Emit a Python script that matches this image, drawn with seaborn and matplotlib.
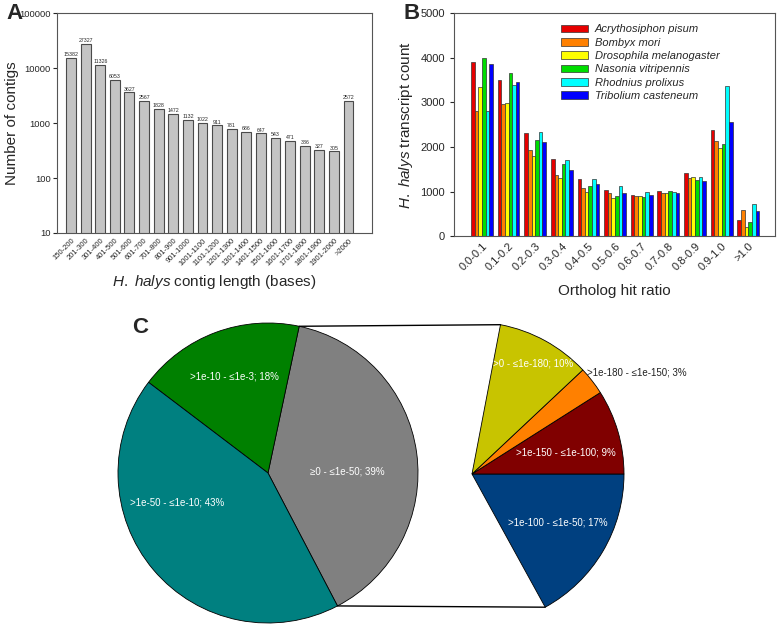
import numpy as np
import pandas as pd
import matplotlib
matplotlib.use("Agg")
import matplotlib.pyplot as plt
import seaborn as sns

# ---- data ----
# A: contig length distribution
length_bins = ["150-200", "201-300", "301-400", "401-500", "501-600", "601-700",
               "701-800", "801-900", "901-1000", "1001-1100", "1101-1200",
               "1201-1300", "1301-1400", "1401-1500", "1501-1600", "1601-1700",
               "1701-1800", "1801-1900", "1901-2000", ">2000"]
contig_counts = [15382, 27327, 11326, 6053, 3627, 2567, 1828, 1472, 1132, 1022,
                 911, 781, 686, 647, 543, 471, 386, 327, 305, 2572]

# B: ortholog hit ratio per species
ratio_bins = ["0.0-0.1", "0.1-0.2", "0.2-0.3", "0.3-0.4", "0.4-0.5", "0.5-0.6",
              "0.6-0.7", "0.7-0.8", "0.8-0.9", "0.9-1.0", ">1.0"]
species = ["Acrythosiphon pisum", "Bombyx mori", "Drosophila melanogaster",
           "Nasonia vitripennis", "Rhodnius prolixus", "Tribolium casteneum"]
acyr = [3900, 3500, 2310, 1740, 1275, 1030, 930, 1020, 1410, 2370, 360]
bomb = [2800, 2960, 1940, 1365, 1090, 970, 900, 975, 1310, 2130, 575]
dros = [3350, 2980, 1790, 1310, 1000, 845, 910, 970, 1335, 1980, 195]
naso = [4000, 3650, 2160, 1610, 1120, 890, 880, 1005, 1255, 2060, 320]
rhod = [2800, 3380, 2330, 1700, 1290, 1135, 985, 985, 1335, 3370, 730]
trib = [3850, 3460, 2100, 1485, 1165, 960, 920, 970, 1245, 2570, 565]
species_colors = ["#e60000", "#ff8000", "#ffff00", "#00dd00", "#00ffff", "#0000ff"]

# C: e-value distribution (pie of pie)
main_labels = ["\u22650 - \u22641e-50; 39%", ">1e-10 - \u22641e-3; 18%", ">1e-50 - \u22641e-10; 43%"]
main_pct = [39, 18, 43]
main_colors = ["#808080", "#008000", "#008080"]
sub_labels = [">1e-100 - \u22641e-50; 17%", ">1e-150 - \u22641e-100; 9%",
              ">1e-180 - \u22641e-150; 3%", ">0 - \u22641e-180; 10%"]
sub_pct = [17, 9, 3, 10]
sub_colors = ["#004080", "#800000", "#ff8000", "#c8c400"]

# ---- style ----
sns.set_style("ticks")
plt.rcParams["font.family"] = ["Liberation Sans", "DejaVu Sans"]
plt.rcParams["mathtext.fontset"] = "custom"
plt.rcParams["mathtext.rm"] = "Liberation Sans"
plt.rcParams["mathtext.it"] = "Liberation Sans:italic"
plt.rcParams["axes.edgecolor"] = "#555555"
plt.rcParams["axes.linewidth"] = 0.8

fig = plt.figure(figsize=(7.78, 6.28), dpi=100)

# ================================
# A
# ================================
axA = fig.add_axes([0.0733, 0.629, 0.4047, 0.350])
dfA = pd.DataFrame({"bin": length_bins, "count": contig_counts})
sns.barplot(data=dfA, x="bin", y="count", color="#c4c4c4", edgecolor="#4a4a4a",
            linewidth=0.8, width=0.68, saturation=1, ax=axA)
axA.set_yscale("log")
axA.set_ylim(10, 100000)
axA.set_xlim(-0.96, 20.6)
axA.set_yticks([10, 100, 1000, 10000, 100000])
axA.set_yticklabels(["10", "100", "1000", "10000", "100000"], fontsize=6.8)
axA.yaxis.set_minor_locator(matplotlib.ticker.NullLocator())
axA.set_xticks(range(len(length_bins)))
axA.set_xticklabels(length_bins, rotation=45, ha="right", rotation_mode="anchor", fontsize=5.5)
axA.tick_params(axis="x", length=0, pad=3)
axA.tick_params(axis="y", length=3, pad=1.5)
axA.bar_label(axA.containers[0], labels=[str(v) for v in contig_counts], fontsize=3.8, padding=0.5)
axA.set_ylabel("Number of contigs", fontsize=11)
axA.yaxis.set_label_coords(-0.12, 0.5)
axA.set_xlabel(r"$\it{H.\ halys}$ contig length (bases)", fontsize=11, labelpad=4)
fig.text(0.008, 0.979, "A", fontsize=16, fontweight="bold", va="center")

# ================================
# B
# ================================
axB = fig.add_axes([0.5835, 0.624, 0.4126, 0.355])
dfB = pd.DataFrame({
    "ratio": np.tile(ratio_bins, len(species)),
    "species": np.repeat(species, len(ratio_bins)),
    "count": acyr + bomb + dros + naso + rhod + trib,
})
sns.barplot(data=dfB, x="ratio", y="count", hue="species", palette=species_colors,
            edgecolor="#333333", linewidth=0.5, width=0.82, saturation=1, ax=axB)
axB.set_ylim(0, 5000)
axB.set_xlim(-1.05, 11.0)
axB.set_yticks(range(0, 5001, 1000))
axB.tick_params(axis="y", labelsize=8, length=3)
axB.tick_params(axis="x", labelsize=8, length=0)
axB.set_xticks(range(len(ratio_bins)))
axB.set_xticklabels(ratio_bins, rotation=45, ha="right", rotation_mode="anchor")
axB.set_xlabel("Ortholog hit ratio", fontsize=11, labelpad=8)
axB.set_ylabel(r"$\it{H.\ halys}$ transcript count", fontsize=11)
axB.legend(loc="upper left", bbox_to_anchor=(0.31, 0.985), frameon=False,
           prop={"style": "italic", "size": 8}, handlelength=2.4, handleheight=0.7,
           handletextpad=0.6, labelspacing=0.3, borderpad=0.2)
fig.text(0.518, 0.979, "B", fontsize=16, fontweight="bold", va="center")

# ================================
# C  (pie of pie, units in pixels)
# ================================
axC = fig.add_axes([0, 0, 1, 0.5])
main_c, main_r = (268, 155), 150
sub_c, sub_r = (472, 154), 152

wm, _ = axC.pie(main_pct, colors=main_colors, startangle=-62.4, center=main_c,
                radius=main_r, wedgeprops=dict(edgecolor="black", linewidth=0.6))
ws, _ = axC.pie([p / 100 for p in sub_pct], colors=sub_colors, startangle=-61.2,
                center=sub_c, radius=sub_r, normalize=False,
                wedgeprops=dict(edgecolor="black", linewidth=0.6))

# connector lines between the gray slice and the secondary pie
gray = wm[0]
for a_main, a_sub in [(gray.theta2, ws[-1].theta2), (gray.theta1, ws[0].theta1)]:
    p1 = (main_c[0] + main_r * np.cos(np.radians(a_main)), main_c[1] + main_r * np.sin(np.radians(a_main)))
    p2 = (sub_c[0] + sub_r * np.cos(np.radians(a_sub)), sub_c[1] + sub_r * np.sin(np.radians(a_sub)))
    axC.plot([p1[0], p2[0]], [p1[1], p2[1]], color="black", lw=1.0)

# label placement: (angle in degrees, fraction of radius)
main_pos = [(1.4, 0.53), (109.5, 0.68), (198, 0.64)]
for lab, (a, f) in zip(main_labels, main_pos):
    axC.text(main_c[0] + f * main_r * np.cos(np.radians(a)),
             main_c[1] + f * main_r * np.sin(np.radians(a)),
             lab, color="white", fontsize=7, ha="center", va="center")
sub_pos = [(-29.7, 0.65), (12.7, 0.63), (41.5, 1.01), (61.0, 0.83)]
for i, (lab, (a, f)) in enumerate(zip(sub_labels, sub_pos)):
    x = sub_c[0] + f * sub_r * np.cos(np.radians(a))
    y = sub_c[1] + f * sub_r * np.sin(np.radians(a))
    if i == 2:
        axC.text(x, y, lab, color="#222222", fontsize=7, ha="left", va="center")
    else:
        axC.text(x, y, lab, color="white", fontsize=7, ha="center", va="center")

axC.set_xlim(0, 778)
axC.set_ylim(0, 314)
axC.set_aspect("equal")
axC.axis("off")
fig.text(0.170, 0.479, "C", fontsize=16, fontweight="bold", va="center")

fig.savefig("out.png", dpi=100)
